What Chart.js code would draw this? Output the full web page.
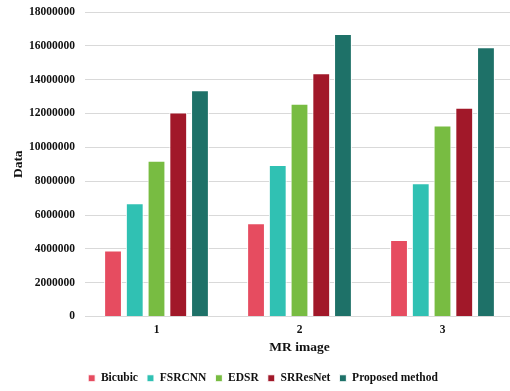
<!DOCTYPE html>
<html>
<head>
<meta charset="utf-8">
<script src="https://cdn.jsdelivr.net/npm/chart.js@4/dist/chart.umd.min.js"></script>
<style>
  html, body { margin: 0; padding: 0; background: #fff; overflow: hidden; }
  #wrap { width: 514px; height: 391px; position: relative; }
</style>
</head>
<body>
<div id="wrap"><canvas id="c"></canvas></div>
<script>
// MR images compared
const categories = ['1', '2', '3'];

// Values per super-resolution method
const bicubic   = [3900000, 5510000, 4520000];
const fsrcnn    = [6700000, 8950000, 7880000];
const edsr      = [9210000, 12580000, 11290000];
const srresnet  = [12060000, 14380000, 12340000];
const proposed  = [13370000, 16700000, 15920000];

const seriesNames = ['Bicubic', 'FSRCNN', 'EDSR', 'SRResNet', 'Proposed method'];
const seriesColors = ['#E64C60', '#30C1B3', '#78BC42', '#A11829', '#1E7168'];
const seriesValues = [bicubic, fsrcnn, edsr, srresnet, proposed];

const yMax = 18000000;
const yStep = 2000000;

const serif = "'Liberation Serif', 'Times New Roman', serif";

const datasets = seriesNames.map((name, i) => ({
  label: name,
  data: seriesValues[i],
  backgroundColor: seriesColors[i],
  borderColor: '#ffffff',
  borderWidth: 1,
  categoryPercentage: 0.76,
  barPercentage: 0.82
}));

new Chart(document.getElementById('c'), {
  type: 'bar',
  data: { labels: categories, datasets },
  options: {
    responsive: true,
    maintainAspectRatio: false,
    animation: false,
    layout: { padding: { top: 12, left: 12, right: 0, bottom: -3 } },
    plugins: {
      tooltip: { enabled: false },
      legend: {
        position: 'bottom',
        labels: {
          color: '#111',
          font: { family: serif, size: 11.5, weight: 'bold' },
          boxWidth: 7,
          boxHeight: 7,
          padding: 9
        }
      }
    },
    scales: {
      x: {
        grid: { display: false, drawTicks: false },
        border: { color: '#d9d9d9', width: 1 },
        ticks: { color: '#111', padding: 7, font: { family: serif, size: 11.5, weight: 'bold' } },
        title: {
          display: true,
          text: 'MR image',
          color: '#111',
          font: { family: serif, size: 13.5, weight: 'bold' },
          padding: { top: 0, bottom: 8 }
        },
        afterFit: s => { s.height = 47; }
      },
      y: {
        min: 0,
        max: yMax,
        grid: { color: '#d9d9d9', lineWidth: 1, drawTicks: false },
        border: { display: false },
        ticks: {
          stepSize: yStep,
          color: '#111',
          padding: 10,
          font: { family: serif, size: 11.5, weight: 'bold' },
          callback: v => String(v)
        },
        title: {
          display: true,
          text: 'Data',
          color: '#111',
          font: { family: serif, size: 13.5, weight: 'bold' },
          padding: { top: -2, bottom: 0 }
        },
        afterFit: s => { s.width = 73; s.paddingTop = 0; s.paddingBottom = 0; }
      }
    }
  }
});
</script>
</body>
</html>
